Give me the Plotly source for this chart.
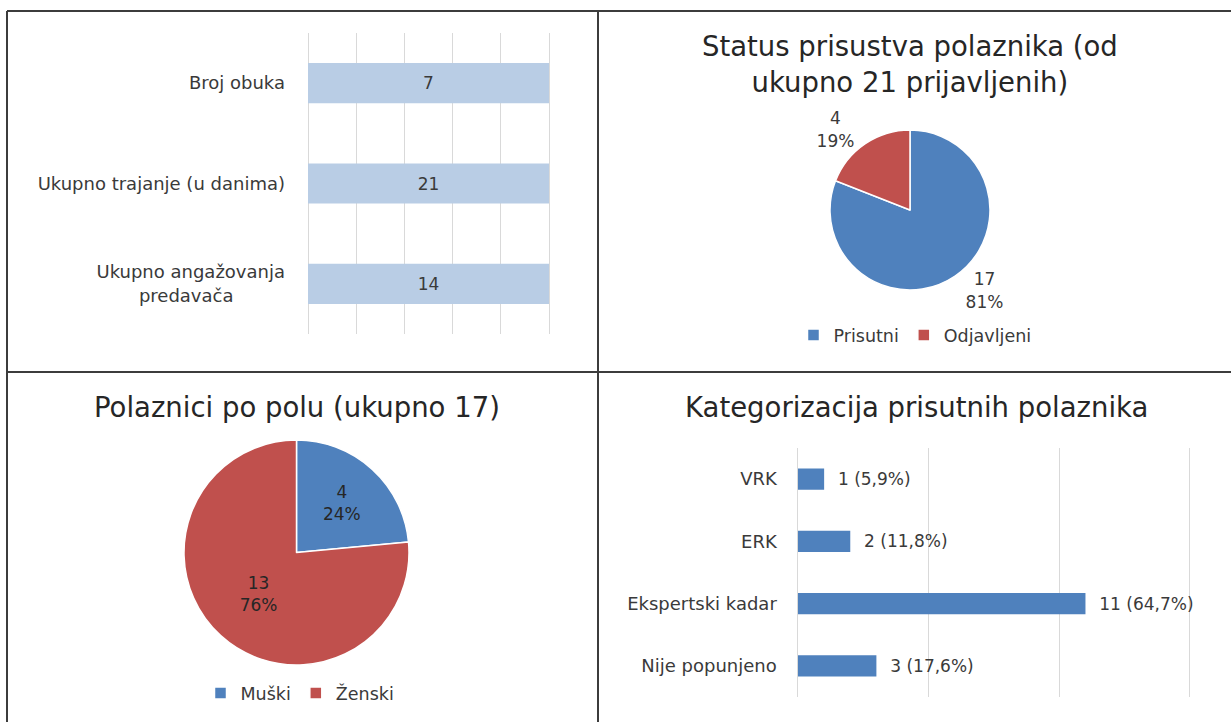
import plotly.graph_objects as go

W, H = 1231, 722
FONT = "DejaVu Sans"
TXT = "#3a3a3a"
BLUE = "#4f81bd"
RED = "#c0504d"
LIGHT = "#b9cde5"
GRID = "#d9d9d9"

# ---- Panel 1 (top-left): summary 100% bars ----
summary_labels = ["Broj obuka", "Ukupno trajanje (u danima)",
                  "Ukupno angažovanja<br>predavača\u00a0\u00a0\u00a0\u00a0\u00a0\u00a0\u00a0\u00a0\u00a0"]
summary_values = [7, 21, 14]

# ---- Panel 2 (top-right): attendance status ----
status_title = "Status prisustva polaznika (od<br>ukupno 21 prijavljenih)"
status_labels = ["Prisutni", "Odjavljeni"]
status_values = [17, 4]

# ---- Panel 3 (bottom-left): gender ----
gender_title = "Polaznici po polu (ukupno 17)"
gender_labels = ["Muški", "Ženski"]
gender_values = [4, 13]

# ---- Panel 4 (bottom-right): categories ----
cat_title = "Kategorizacija prisutnih polaznika"
cat_labels = ["VRK", "ERK", "Ekspertski kadar", "Nije popunjeno"]
cat_values = [1, 2, 11, 3]


def fx(px):
    return px / W


def fy(py):
    return 1 - py / H


# 100% stacked bar: each row is its own total (single series)
row_share = [v / v for v in summary_values]
cat_total = sum(cat_values)
cat_text = ["\u00a0\u00a0" + f"{v} ({100 * v / cat_total:.1f}%)".replace(".", ",") for v in cat_values]

fig = go.Figure()

fig.add_trace(go.Bar(
    y=summary_labels, x=row_share, orientation="h",
    text=[str(v) for v in summary_values], textposition="inside",
    insidetextanchor="middle",
    insidetextfont=dict(family=FONT, size=17, color=TXT),
    marker=dict(color=LIGHT, line=dict(width=0)), width=0.4,
    xaxis="x", yaxis="y", showlegend=False, hoverinfo="skip",
))

fig.add_trace(go.Bar(
    y=cat_labels, x=cat_values, orientation="h",
    text=cat_text, textposition="outside", cliponaxis=False,
    outsidetextfont=dict(family=FONT, size=17, color=TXT),
    marker=dict(color=BLUE, line=dict(width=0)), width=0.34,
    xaxis="x2", yaxis="y2", showlegend=False, hoverinfo="skip",
))

fig.add_trace(go.Pie(
    labels=status_labels, values=status_values, sort=False,
    direction="clockwise", rotation=0,
    marker=dict(colors=[BLUE, RED], line=dict(color="white", width=1.5)),
    texttemplate="%{value}<br>%{percent:.0%}", textposition="outside",
    outsidetextfont=dict(family=FONT, size=17, color=TXT),
    domain=dict(x=[fx(830), fx(990)], y=[fy(290), fy(130)]),
    legend="legend", hoverinfo="skip",
))

fig.add_trace(go.Pie(
    labels=gender_labels, values=gender_values, sort=False,
    direction="clockwise", rotation=0,
    marker=dict(colors=[BLUE, RED], line=dict(color="white", width=1.5)),
    texttemplate="%{value}<br>%{percent:.0%}", textposition="inside",
    insidetextfont=dict(family=FONT, size=17, color="#262626"),
    domain=dict(x=[fx(184), fx(409)], y=[fy(665), fy(440)]),
    legend="legend2", hoverinfo="skip",
))

axis_common = dict(showgrid=True, gridcolor=GRID, gridwidth=1, zeroline=False,
                   showline=False, showticklabels=False, ticks="", fixedrange=True)
yaxis_common = dict(type="category", autorange="reversed", showgrid=False, zeroline=False,
                    showline=False, ticks="outside", tickcolor="rgba(0,0,0,0)",
                    tickfont=dict(family=FONT, size=18, color=TXT), fixedrange=True)

shapes = []
for (x0, y0, x1, y1) in [(7, 11, 1231, 11), (7, 11, 7, 722), (598, 11, 598, 722), (7, 372, 1231, 372)]:
    shapes.append(dict(type="line", xref="paper", yref="paper",
                       x0=fx(x0), y0=fy(y0), x1=fx(x1), y1=fy(y1),
                       line=dict(color="#3c3c3c", width=2)))

title_font = dict(family=FONT, size=27.5, color="#262626")
annotations = [
    dict(text=status_title, x=fx(910), y=fy(64), xref="paper", yref="paper",
         showarrow=False, xanchor="center", yanchor="middle", font=title_font),
    dict(text=gender_title, x=fx(297), y=fy(407), xref="paper", yref="paper",
         showarrow=False, xanchor="center", yanchor="middle", font=title_font),
    dict(text=cat_title, x=fx(916), y=fy(407), xref="paper", yref="paper",
         showarrow=False, xanchor="center", yanchor="middle", font=title_font),
]

legend_common = dict(orientation="h", xanchor="center", yanchor="middle",
                     font=dict(family=FONT, size=17.5, color=TXT), bgcolor="rgba(0,0,0,0)",
                     itemclick=False, itemdoubleclick=False)

# axis ranges padded slightly so the edge gridlines are drawn; domains padded to match
p1 = 0.01 * 241
p2 = 0.1 * 392 / 15

fig.update_layout(
    width=W, height=H, margin=dict(l=0, r=0, t=0, b=0),
    paper_bgcolor="white", plot_bgcolor="white",
    font=dict(family=FONT, color=TXT),
    xaxis=dict(domain=[fx(308 - p1), fx(549 + p1)], range=[-0.01, 1.01], dtick=0.2, tick0=0,
               anchor="y", **axis_common),
    yaxis=dict(domain=[fy(334), fy(33)], anchor="x", ticklen=16, **yaxis_common),
    xaxis2=dict(domain=[fx(798 - p2), fx(1190 + p2)], range=[-0.1, 15.1], dtick=5, tick0=0,
                anchor="y2", **axis_common),
    yaxis2=dict(domain=[fy(697), fy(448)], anchor="x2", ticklen=14, **yaxis_common),
    legend=dict(x=fx(915), y=fy(335), **legend_common),
    legend2=dict(x=fx(300), y=fy(693), **legend_common),
    shapes=shapes, annotations=annotations,
)

fig.write_html("out.html", config={"displayModeBar": False},
               post_script="document.body.style.margin='0';")
